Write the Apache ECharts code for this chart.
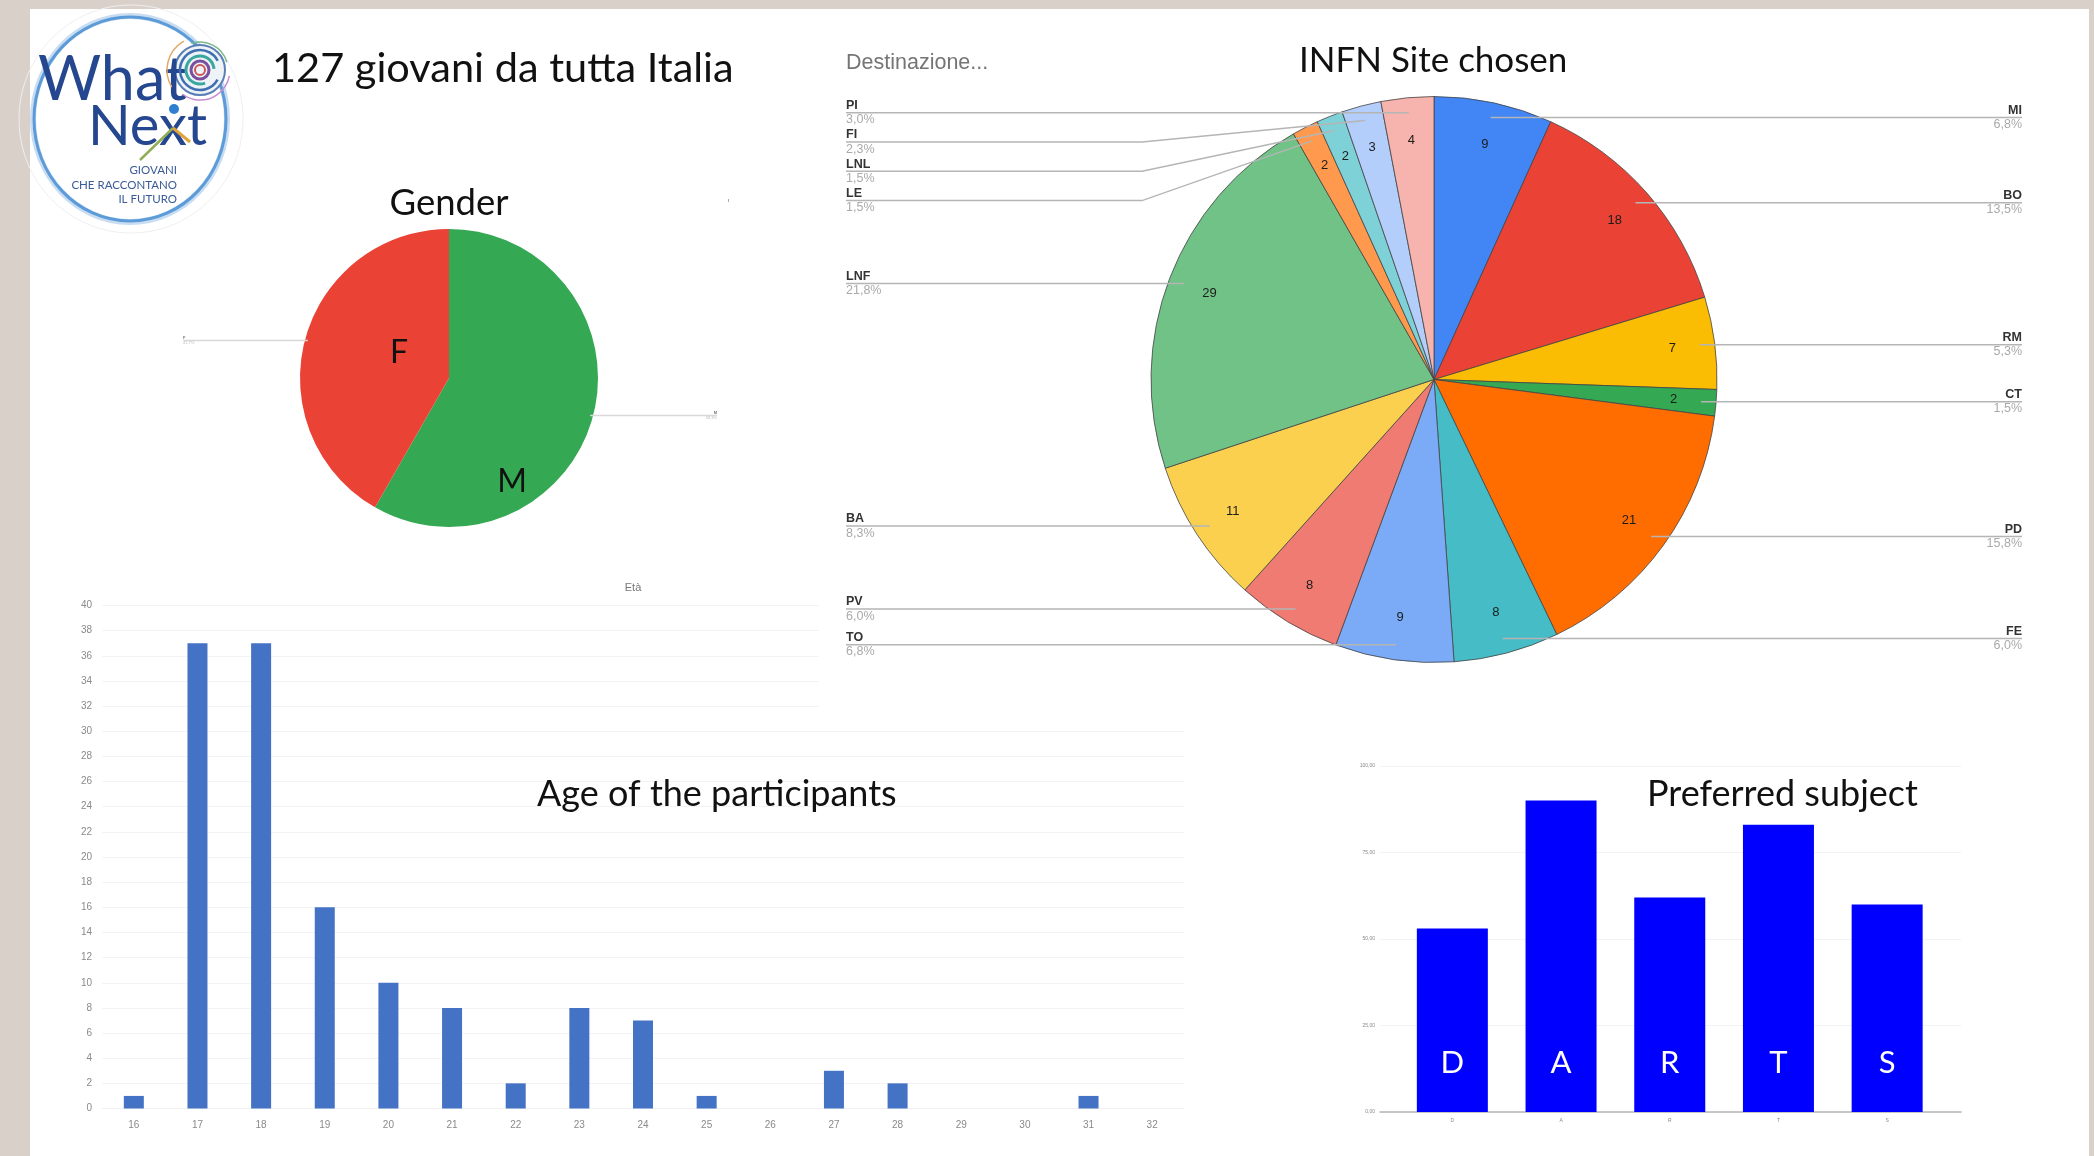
<!DOCTYPE html>
<html>
<head>
<meta charset="utf-8">
<title>What Next</title>
<style>
html,body{margin:0;padding:0;background:#d9d0ca;width:2094px;height:1156px;overflow:hidden}
#panel{position:absolute;left:30px;top:9px;width:2059px;height:1147px;background:#fff}
#chart{position:absolute;left:0;top:0;width:2094px;height:1156px}
</style>
<script src="https://cdn.jsdelivr.net/npm/echarts@6/dist/echarts.min.js"></script>
</head>
<body>
<div id="panel"></div>
<div id="chart"></div>
<script>
const genderNames = ['M', 'F'];
const genderValues = [74, 53];
const genderColors = ['#34a853', '#ea4335'];

const siteNames = ['MI','BO','RM','CT','PD','FE','TO','PV','BA','LNF','LE','LNL','FI','PI'];
const siteValues = [9,18,7,2,21,8,9,8,11,29,2,2,3,4];
const siteColors = ['#4285f4','#ea4335','#fbbc04','#34a853','#ff6d01','#46bdc6','#7baaf7','#f07b72','#fcd04f','#71c287','#ff994d','#7ed1d7','#b3cefb','#f7b4ae'];

const ageLabels = ['16','17','18','19','20','21','22','23','24','25','26','27','28','29','30','31','32'];
const ageValues = [1,37,37,16,10,8,2,8,7,1,0,3,2,0,0,1,0];

const subjectLabels = ['D','A','R','T','S'];
const subjectValues = [53,90,62,83,60];

const SLIDE_FONT = 'Lato';
const CHART_FONT = '"Liberation Sans"';
const LEADER_BEND_X = 1142;

function percentText(values, i) {
  const total = values.reduce((a, b) => a + b, 0);
  return (values[i] / total * 100).toFixed(1).replace('.', ',') + '%';
}
function toData(names, values, colors) {
  return names.map((n, i) => ({name: n, value: values[i], itemStyle: colors ? {color: colors[i]} : undefined}));
}
// Extends the leader under the label, up to the label's far edge;
// leaders of labels pushed apart bend at one common x, as in the picture.
function leaderUnderLabel(params) {
  const pts = params.labelLinePoints;
  if (!pts) return {};
  const r = params.labelRect;
  const first = pts[0];
  const last = pts[pts.length - 1].slice();
  const isLeft = r.x + r.width / 2 < first[0];
  last[0] = isLeft ? r.x : r.x + r.width;
  if (params.seriesIndex >= 4 && isLeft && Math.abs(first[1] - last[1]) > 1.5) {
    return {labelLinePoints: [first, [LEADER_BEND_X, last[1]], last]};
  }
  const out = pts.slice(0, pts.length - 1);
  out.push(last);
  return {labelLinePoints: out};
}

function txt(text, x, y, size, color, extra) {
  return {type: 'text', z: 20, silent: true, style: Object.assign({
    text, x, y, fill: color, font: size + 'px ' + SLIDE_FONT, textAlign: 'left', textVerticalAlign: 'middle'
  }, extra || {})};
}
function swirl(r, color, start, end, w) {
  return {type: 'arc', z: 21, silent: true,
    shape: {cx: 200, cy: 70, r, startAngle: start, endAngle: end},
    style: {stroke: color, lineWidth: w || 1.5, fill: null}};
}

const logo = [
  {type: 'ellipse', z: 1, silent: true, shape: {cx: 131, cy: 119, rx: 112, ry: 114}, style: {fill: null, stroke: '#eeeeee', lineWidth: 1}},
  {type: 'ellipse', z: 2, silent: true, shape: {cx: 130, cy: 119, rx: 97, ry: 103}, style: {fill: null, stroke: '#c8ddf2', lineWidth: 6}},
  {type: 'ellipse', z: 3, silent: true, shape: {cx: 130, cy: 119, rx: 96, ry: 102}, style: {fill: null, stroke: '#5c9bd8', lineWidth: 3}},
  {type: 'circle', z: 20, silent: true, shape: {cx: 200, cy: 70, r: 25}, style: {fill: '#eef3f7', stroke: '#5b7fb5', lineWidth: 2}},
  swirl(30,'#c98bd0',0.2,2.2), swirl(33,'#e0a96b',2.6,4.2), swirl(28,'#7bb58c',4.4,6.0),
  swirl(20,'#3f6fb0',0.5,5.8,2.5), swirl(14,'#3aa6a0',1.2,6.2,3), swirl(9,'#7a4fa0',0,6.28,3), swirl(5,'#cc5555',0,6.28,2),
  txt('What', 38, 80, 61, '#24478f', {font: '400 61px ' + SLIDE_FONT}),
  txt('Next', 207, 127, 56, '#24478f', {textAlign: 'right'}),
  {type: 'line', z: 22, silent: true, shape: {x1: 140, y1: 160, x2: 173, y2: 128}, style: {stroke: '#8fae55', lineWidth: 2.5}},
  {type: 'line', z: 22, silent: true, shape: {x1: 173, y1: 128, x2: 190, y2: 142}, style: {stroke: '#e0a23c', lineWidth: 3}},
  {type: 'circle', z: 22, silent: true, shape: {cx: 174, cy: 109, r: 5}, style: {fill: '#2f7fd0'}},
  txt('GIOVANI', 177, 170, 11.5, '#3a5a98', {textAlign: 'right'}),
  txt('CHE RACCONTANO', 177, 185, 11.5, '#3a5a98', {textAlign: 'right'}),
  txt('IL FUTURO', 177, 199, 11.5, '#3a5a98', {textAlign: 'right'})
];

const option = {
  animation: false,
  backgroundColor: 'transparent',
  textStyle: {fontFamily: CHART_FONT},
  graphic: {elements: [
    // pasted pie picture hides the upper age gridlines
    {type: 'rect', z: 1, silent: true, shape: {x: 819, y: 590, width: 380, height: 118}, style: {fill: '#fff'}},
    ...logo,
    txt('127 giovani da tutta Italia', 272, 68.5, 41.5, '#111'),
    txt('Gender', 449, 203, 36.5, '#111', {textAlign: 'center'}),
    txt('F', 399, 353, 32, '#111', {textAlign: 'center'}),
    txt('M', 512, 482, 32, '#111', {textAlign: 'center'}),
    txt('INFN Site chosen', 1299, 61, 35, '#111'),
    txt('Destinazione...', 846, 63, 21.5, '#757575', {font: '21.5px ' + CHART_FONT}),
    txt('Età', 633, 588, 11, '#777', {textAlign: 'center', font: '11px ' + CHART_FONT}),
    txt('Age of the participants', 537, 794.5, 36, '#111'),
    txt('Preferred subject', 1647, 794, 36, '#111'),
    {type: 'rect', z: 5, silent: true, shape: {x: 728, y: 199, width: 1, height: 3}, style: {fill: '#aaa'}}
  ]},
  grid: [
    {left: 102, top: 605.5, width: 1082, height: 503},
    {left: 1380, top: 766, width: 581, height: 346},
    {left: 1398, top: 766, width: 543.5, height: 346}
  ],
  xAxis: [
    {gridIndex: 0, type: 'category', data: ageLabels, axisTick: {show: false},
      axisLine: {lineStyle: {color: '#f0f0f0'}}, axisLabel: {color: '#8a8a8a', fontSize: 10, margin: 12}},
    {gridIndex: 1, type: 'value', min: 0, max: 1, axisLabel: {show: false}, axisTick: {show: false},
      splitLine: {show: false}, axisLine: {show: true, onZero: false, lineStyle: {color: '#b5b5b5', width: 1.5}}},
    {gridIndex: 2, type: 'category', data: subjectLabels, axisTick: {show: false}, axisLine: {show: false},
      axisLabel: {color: '#888', fontSize: 5, margin: 6}}
  ],
  yAxis: [
    {gridIndex: 0, type: 'value', min: 0, max: 40, interval: 2, axisLine: {show: false}, axisTick: {show: false},
      axisLabel: {color: '#8a8a8a', fontSize: 10, margin: 10}, splitLine: {lineStyle: {color: '#f3f3f3'}}},
    {gridIndex: 1, type: 'value', min: 0, max: 100, interval: 25, axisLine: {show: false}, axisTick: {show: false},
      axisLabel: {color: '#888', fontSize: 5, margin: 5, formatter: v => v.toFixed(2).replace('.', ',')},
      splitLine: {lineStyle: {color: '#f3f3f3'}}},
    {gridIndex: 2, type: 'value', min: 0, max: 100, show: false}
  ],
  series: [
    {type: 'bar', xAxisIndex: 0, yAxisIndex: 0, data: ageValues, barWidth: 20, itemStyle: {color: '#4472c4'}, silent: true},
    {type: 'bar', xAxisIndex: 2, yAxisIndex: 2, data: subjectValues, barWidth: 71, itemStyle: {color: '#0000ff'}, silent: true,
      label: {show: true, position: 'insideBottom', distance: 34, color: '#fff', fontFamily: SLIDE_FONT, fontSize: 31,
        formatter: p => subjectLabels[p.dataIndex]}},

    // Gender pie
    {type: 'pie', silent: true, left: 183, top: 0, width: 534, height: 1156, center: [266, 378], radius: 149, startAngle: 90,
      data: toData(genderNames, genderValues, genderColors), label: {show: false}, labelLine: {show: false}},
    {type: 'pie', silent: true, z: 3, left: 183, top: 0, width: 534, height: 1156, center: [266, 378], radius: 146, startAngle: 90,
      data: toData(genderNames, genderValues), itemStyle: {color: 'transparent'},
      label: {show: true, position: 'outside', alignTo: 'edge', edgeDistance: 0, fontSize: 4,
        formatter: p => '{n|' + p.name + '}\n{p|' + percentText(genderValues, p.dataIndex) + '}',
        rich: {n: {fontSize: 4, lineHeight: 5, fontWeight: 'bold', color: '#777'}, p: {fontSize: 4, lineHeight: 5, color: '#bbb'}}},
      labelLine: {show: true, length: 0, length2: 20, lineStyle: {color: '#d8d8d8', width: 1.5}},
      labelLayout: leaderUnderLabel},

    // Site pie
    {type: 'pie', silent: true, left: 846, top: 0, width: 1176, height: 1156, center: [588, 379.5], radius: 283, startAngle: 90,
      data: toData(siteNames, siteValues, siteColors), itemStyle: {borderColor: '#444', borderWidth: 0.8},
      label: {show: false}, labelLine: {show: false}},
    {type: 'pie', silent: true, z: 3, left: 846, top: 0, width: 1176, height: 1156, center: [588, 379.5], radius: [192, 283], startAngle: 90,
      data: toData(siteNames, siteValues), itemStyle: {color: 'transparent'},
      label: {show: true, position: 'inside', formatter: '{c}', color: '#1c1c1c', fontSize: 13}, labelLine: {show: false}},
    {type: 'pie', silent: true, z: 3, left: 846, top: 0, width: 1176, height: 1156, center: [588, 379.5], radius: 268, startAngle: 90,
      data: toData(siteNames, siteValues), itemStyle: {color: 'transparent'},
      label: {show: true, position: 'outside', alignTo: 'edge', edgeDistance: 0,
        formatter: p => '{n|' + p.name + '}\n{p|' + percentText(siteValues, p.dataIndex) + '}',
        rich: {n: {fontSize: 12.5, lineHeight: 14.3, fontWeight: 'bold', color: '#333'}, p: {fontSize: 12.5, lineHeight: 14.3, color: '#aaa'}}},
      labelLine: {show: true, length: 0, length2: 20, lineStyle: {color: '#b5b5b5', width: 1.5}},
      labelLayout: leaderUnderLabel}
  ]
};
const chart = echarts.init(document.getElementById('chart'), null, {renderer: 'canvas', width: 2094, height: 1156});
chart.setOption(option);
</script>
</body>
</html>
